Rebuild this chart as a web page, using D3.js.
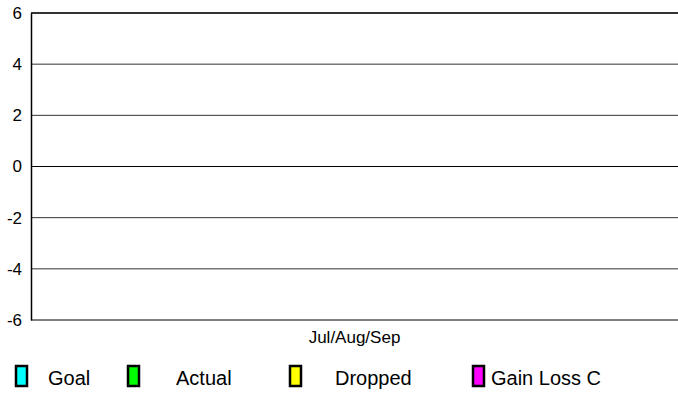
<!DOCTYPE html>
<html><head><meta charset="utf-8">
<script src="https://cdn.jsdelivr.net/npm/d3@7"></script>
<style>html,body{margin:0;padding:0;background:#fff;}svg{display:block;}</style>
</head><body>
<svg id="c" width="678" height="402"></svg>
<script>
const categories = ["Jul/Aug/Sep"];
const seriesNames = ["Goal", "Actual", "Dropped", "Gain Loss C"];
const goal = [0];
const actual = [0];
const dropped = [0];
const gainLoss = [0];
const seriesColors = ["#00ffff", "#00ff00", "#ffff00", "#ff00ff"];
const yTicks = [-6, -4, -2, 0, 2, 4, 6];

const svg = d3.select("#c");
const L = 31, R = 678, T = 13, B = 320;
const font = "Liberation Sans, Arial, sans-serif";
const y = d3.scaleLinear().domain([-6, 6]).range([B, T]);
const x = d3.scaleBand().domain(categories).range([L, R]).paddingInner(0.2).paddingOuter(0.2);
const xs = d3.scaleBand().domain(seriesNames).range([0, x.bandwidth()]).padding(0.1);

// gridlines
svg.append("g").selectAll("line").data(yTicks).join("line")
  .attr("x1", L).attr("x2", R)
  .attr("y1", d => y(d)).attr("y2", d => y(d))
  .attr("stroke", d => (d === 0 || d === -6) ? "#000" : "#333")
  .attr("stroke-width", d => (d === 6) ? 2 : 1);

// bars
const data = [goal, actual, dropped, gainLoss];
categories.forEach((c, ci) => {
  svg.append("g").selectAll("rect").data(seriesNames).join("rect")
    .attr("x", (s) => x(c) + xs(s))
    .attr("width", xs.bandwidth())
    .attr("y", (s, si) => y(Math.max(0, data[si][ci])))
    .attr("height", (s, si) => Math.abs(y(data[si][ci]) - y(0)))
    .attr("fill", (s, si) => seriesColors[si]);
});

// y axis
const yAxis = d3.axisLeft(y).tickValues(yTicks).tickSize(0).tickPadding(9)
  .tickFormat(d => String(d));
const gy = svg.append("g").attr("transform", `translate(${L},0)`).call(yAxis);
gy.select(".domain").attr("stroke", "#000").attr("stroke-width", 1.5);
gy.selectAll("text").attr("font-family", font).attr("font-size", 17).attr("fill", "#000");

// x axis labels
const xAxis = d3.axisBottom(x).tickSize(0).tickPadding(11);
const gx = svg.append("g").attr("transform", `translate(0,${B})`).call(xAxis);
gx.select(".domain").remove();
gx.selectAll("text").attr("font-family", font).attr("font-size", 17).attr("fill", "#000");

// legend
const legX = [16, 128, 290, 473];
const legTextX = [48, 176, 335, 491];
const lg = svg.append("g");
seriesNames.forEach((s, i) => {
  lg.append("rect").attr("x", legX[i]).attr("y", 366).attr("width", 11).attr("height", 20)
    .attr("fill", seriesColors[i]).attr("stroke", "#000").attr("stroke-width", 2.5);
  lg.append("text").attr("x", legTextX[i]).attr("y", 385).text(s)
    .attr("font-family", font).attr("font-size", 20).attr("fill", "#000");
});
</script>
</body></html>
